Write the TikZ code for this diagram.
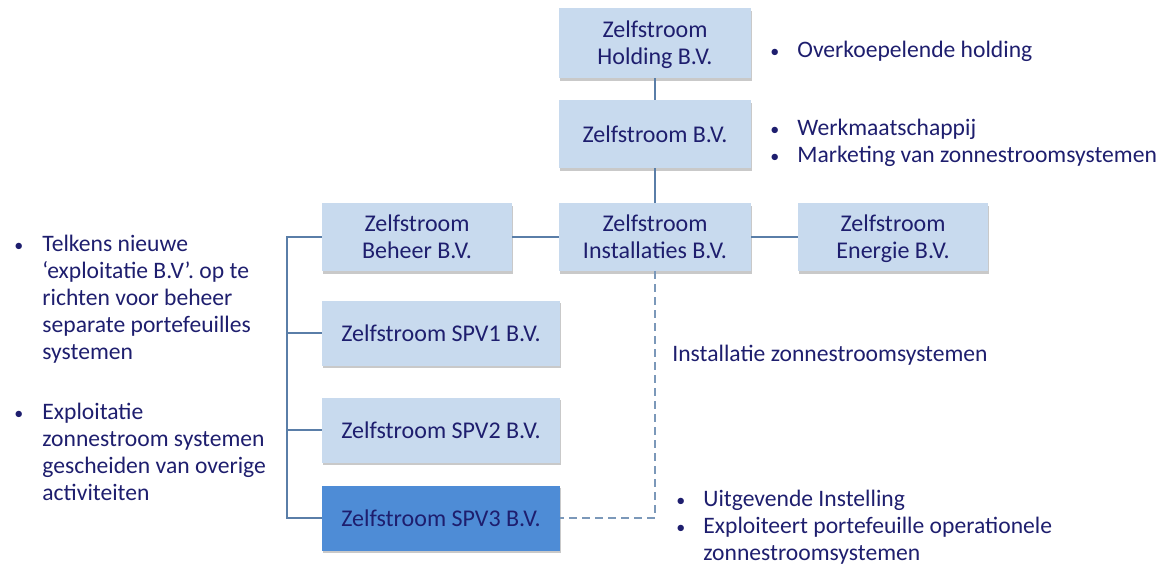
\documentclass[tikz,border=0pt]{standalone}
\usepackage{fontspec}
\setmainfont{Carlito}
\usetikzlibrary{positioning,shadows}
\definecolor{boxblue}{HTML}{C8DAEE}
\definecolor{spvblue}{HTML}{4E8CD6}
\definecolor{inkblue}{HTML}{1E1E6E}
\definecolor{lineblue}{HTML}{5A7EA8}
\newcommand{\blt}{{\small\textbullet}}
\newcommand{\topstrut}{\rule{0pt}{12.5pt}}

\begin{document}
\begin{tikzpicture}[x=0.5pt,y=-0.5pt,
box/.style={rectangle,fill=boxblue,text=inkblue,align=center,
    minimum width=96pt,minimum height=33pt,inner sep=2pt,
    font=\fontsize{12}{13.5}\selectfont,execute at end node=\strut,
    drop shadow={shadow xshift=0.3pt,shadow yshift=-1.3pt,opacity=0.3,fill=black!70}},
widebox/.style={box,minimum width=119pt,minimum height=32.5pt},
note/.style={text=inkblue,inner sep=0pt,anchor=base west,
    font=\fontsize{11.8}{13.5}\selectfont},
link/.style={draw=lineblue,line width=1pt},
dashlink/.style={draw=lineblue!80,line width=1pt,dash pattern=on 4pt off 2.5pt}]
\useasboundingbox (0,0) rectangle (1166,564);

% organisation boxes
\node (holding) [box,minimum height=35pt] at (655,43) {\topstrut Zelfstroom\\Holding B.V.};
\node (werk) [box,minimum height=34pt] at (655,134) {\topstrut Zelfstroom B.V.};
\node (beheer) [box,minimum width=95pt,minimum height=32.5pt] at (417,237) {\topstrut Zelfstroom\\Beheer B.V.};
\node (install) [box,minimum height=32.5pt] at (655,237) {\topstrut Zelfstroom\\Installaties B.V.};
\node (energie) [box,minimum width=95pt,minimum height=32.5pt] at (893,237) {\topstrut Zelfstroom\\Energie B.V.};
\node (spvone) [widebox] at (441,333) {\topstrut Zelfstroom SPV1 B.V.};
\node (spvtwo) [widebox] at (441,430) {\topstrut Zelfstroom SPV2 B.V.};
\node (spvthree) [widebox,fill=spvblue] at (441,518) {\topstrut Zelfstroom SPV3 B.V.};

% connectors
\coordinate (rail) at (287,237);
\coordinate (bend) at (655,518);
\draw [link] (holding) -- (werk);
\draw [link] (werk) -- (install);
\draw [link] (beheer) -- (install);
\draw [link] (install) -- (energie);
\draw [link] (beheer.west) -- (rail) |- (spvthree.west);
\draw [link] (rail |- spvone.west) -- (spvone.west);
\draw [link] (rail |- spvtwo.west) -- (spvtwo.west);
\draw [dashlink] (install.south) -- (bend) -- (spvthree.east);

% notes
\node (notetop) [note] at (770,57) {\begin{tabular}[t]{@{}p{13.5pt}@{}l@{}}
\blt & Overkoepelende holding\end{tabular}};
\node (notewerk) [note] at (770,135) {\begin{tabular}[t]{@{}p{13.5pt}@{}l@{}}
\blt & Werkmaatschappij\\
\blt & Marketing van zonnestroomsystemen\end{tabular}};
\node (noteleft) [note] at (14,251) {\begin{tabular}[t]{@{}p{14pt}@{}l@{}}
\blt & Telkens nieuwe\\
 & ‘exploitatie B.V’. op te\\
 & richten voor beheer\\
 & separate portefeuilles\\
 & systemen\\[16.5pt]
\blt & Exploitatie\\
 & zonnestroom systemen\\
 & gescheiden van overige\\
 & activiteiten\end{tabular}};
\node (noteinst) [note] at (672,361) {Installatie zonnestroomsystemen};
\node (notespv) [note] at (676,506) {\begin{tabular}[t]{@{}p{13.5pt}@{}l@{}}
\blt & Uitgevende Instelling\\
\blt & Exploiteert portefeuille operationele\\
 & zonnestroomsystemen\end{tabular}};
\end{tikzpicture}
\end{document}
